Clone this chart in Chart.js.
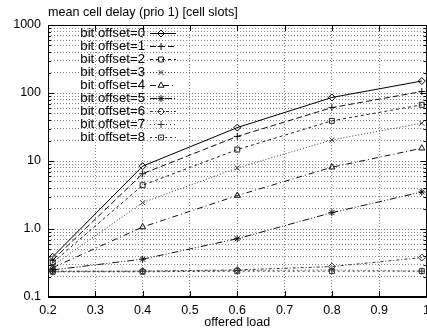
<!DOCTYPE html>
<html>
<head>
<meta charset="utf-8">
<script src="https://cdn.jsdelivr.net/npm/chart.js@4.4.0/dist/chart.umd.min.js"></script>
<style>
html,body{margin:0;padding:0;background:#fff;overflow:hidden;width:427px;height:330px;}
#wrap{width:436px;height:330px;position:relative;}
</style>
</head>
<body>
<div id="wrap"><canvas id="c"></canvas></div>
<script>
const titleText = "mean cell delay (prio 1) [cell slots]";
const xTitle = "offered load";
const loads = [0.21, 0.4, 0.6, 0.8, 0.99];
const seriesNames = ["bit offset=0","bit offset=1","bit offset=2","bit offset=3","bit offset=4","bit offset=5","bit offset=6","bit offset=7","bit offset=8"];
const off0 = [0.39, 8.4, 31, 86, 150];
const off1 = [0.35, 6.5, 23, 61, 105];
const off2 = [0.32, 4.4, 14.7, 39, 67];
const off3 = [0.29, 2.44, 7.9, 20.4, 36];
const off4 = [0.27, 1.07, 3.1, 8.1, 15.4];
const off5 = [0.25, 0.36, 0.72, 1.74, 3.5];
const off6 = [0.24, 0.24, 0.25, 0.28, 0.38];
const off7 = [0.235, 0.24, 0.245, 0.25, 0.24];
const off8 = [0.235, 0.235, 0.24, 0.24, 0.24];
const xTickValues = [0.2, 0.3, 0.4, 0.5, 0.6, 0.7, 0.8, 0.9, 1.0];
const xTickLabels = ["0.2","0.3","0.4","0.5","0.6","0.7","0.8","0.9","1"];
const yMajorValues = [0.1, 1, 10, 100, 1000];
const yMajorLabels = ["0.1","1.0","10","100","1000"];

const allSeries = [off0, off1, off2, off3, off4, off5, off6, off7, off8];
const styles = [
  {ps:'rectRot', dash:[], col:'#000'},
  {ps:'cross', dash:[6,3], col:'#111'},
  {ps:'rect', dash:[3,3], col:'#222'},
  {ps:'crossRot', dash:[1,2], col:'#333'},
  {ps:'triangle', dash:[6,3,1,3], col:'#111'},
  {ps:'star', dash:[7,2,1,2,1,2], col:'#111'},
  {ps:'rectRot', dash:[3,2,1,2], col:'#333'},
  {ps:'cross', dash:[1,3], col:'#333'},
  {ps:'rect', dash:[2,3], col:'#333'}
];
const FONT = "Liberation Sans, Arial, Helvetica, sans-serif";

const datasets = allSeries.map((s, i) => ({
  label: seriesNames[i],
  data: s.map((v, j) => ({x: loads[j], y: v})),
  borderColor: styles[i].col,
  backgroundColor: 'rgba(0,0,0,0)',
  borderWidth: 1,
  borderDash: styles[i].dash,
  pointStyle: styles[i].ps,
  pointRadius: 3.5,
  pointBorderWidth: 1,
  pointBorderColor: styles[i].col,
  pointBackgroundColor: 'rgba(0,0,0,0)',
  tension: 0
}));

const yAllTicks = [];
yMajorValues.forEach((m, k) => {
  if (k < yMajorValues.length - 1) {
    for (let d = 1; d <= 9; d++) yAllTicks.push(+(m * d).toPrecision(3));
  } else yAllTicks.push(m);
});

const decor = {
  id: 'decor',
  afterDraw(chart) {
    const {ctx, chartArea: a, scales} = chart;
    const xs = scales.x, ys = scales.y;
    ctx.save();
    ctx.strokeStyle = '#000';
    ctx.lineWidth = 1;
    ctx.setLineDash([]);
    ctx.beginPath();
    ctx.moveTo(a.left + 0.5, a.bottom); ctx.lineTo(a.left + 0.5, a.top + 0.5);
    ctx.lineTo(a.right, a.top + 0.5); ctx.lineTo(a.right, a.bottom);
    ctx.stroke();
    ctx.lineWidth = 2;
    ctx.beginPath(); ctx.moveTo(a.left, a.bottom); ctx.lineTo(a.right, a.bottom); ctx.stroke();
    ctx.lineWidth = 1;
    ctx.beginPath();
    yAllTicks.forEach(v => {
      const y = Math.round(ys.getPixelForValue(v)) + 0.5;
      const isMajor = yMajorValues.includes(v);
      const L = isMajor ? 6 : 3;
      ctx.moveTo(a.left, y); ctx.lineTo(a.left + L, y);
      ctx.moveTo(a.right, y); ctx.lineTo(a.right - L, y);
    });
    xTickValues.forEach(v => {
      const x = Math.round(xs.getPixelForValue(v)) + 0.5;
      ctx.moveTo(x, a.bottom); ctx.lineTo(x, a.bottom - 6);
      ctx.moveTo(x, a.top); ctx.lineTo(x, a.top + 6);
    });
    ctx.stroke();
    ctx.fillStyle = '#000';
    ctx.font = "12.6px " + FONT;
    ctx.textAlign = 'left';
    ctx.textBaseline = 'middle';
    ctx.fillText(titleText, a.left, 13);
    ctx.font = "13.2px " + FONT;
    chart.data.datasets.forEach((ds, i) => {
      const y = 33 + 13 * i;
      ctx.fillStyle = '#000';
      ctx.textAlign = 'right';
      ctx.fillText(ds.label, 145, y);
      ctx.strokeStyle = ds.borderColor;
      ctx.lineWidth = 1;
      ctx.setLineDash(ds.borderDash);
      ctx.beginPath(); ctx.moveTo(150, y + 0.5); ctx.lineTo(176, y + 0.5); ctx.stroke();
      ctx.setLineDash([]);
      ctx.fillStyle = 'rgba(0,0,0,0)';
      Chart.helpers.drawPoint(ctx, {pointStyle: ds.pointStyle, radius: 3.5, borderWidth: 1, rotation: 0}, 161, y + 0.5);
    });
    ctx.restore();
  }
};

new Chart(document.getElementById('c'), {
  type: 'line',
  data: {datasets},
  plugins: [decor],
  options: {
    responsive: true,
    maintainAspectRatio: false,
    animation: false,
    layout: {padding: {top: 25, right: 0, left: 0, bottom: 0}},
    plugins: {legend: {display: false}, title: {display: false}, tooltip: {enabled: false}},
    scales: {
      x: {
        type: 'linear', min: 0.2, max: 1.0,
        afterBuildTicks(s) { s.ticks = xTickValues.map(v => ({value: v})); },
        afterFit(s) { s.height = 33; },
        ticks: {
          autoSkip: false, maxRotation: 0, padding: 6, color: '#000',
          font: {family: FONT, size: 12.5},
          callback: (v, i) => xTickLabels[i]
        },
        grid: {color: '#888', drawTicks: false, lineWidth: 1},
        border: {display: false, dash: [1, 2]},
        title: {display: true, text: xTitle, color: '#000', font: {family: FONT, size: 12.5}, padding: {top: 0, bottom: 0}}
      },
      y: {
        type: 'logarithmic', min: 0.1, max: 1000,
        afterBuildTicks(s) { s.ticks = yAllTicks.map(v => ({value: v})); },
        afterFit(s) { s.width = 48; },
        ticks: {
          autoSkip: false, padding: 7, color: '#000',
          font: {family: FONT, size: 12.5},
          callback: (v) => { const k = yMajorValues.indexOf(v); return k >= 0 ? yMajorLabels[k] : ''; }
        },
        grid: {color: '#888', drawTicks: false, lineWidth: 1},
        border: {display: false, dash: [1, 2]}
      }
    }
  }
});
</script>
</body>
</html>
